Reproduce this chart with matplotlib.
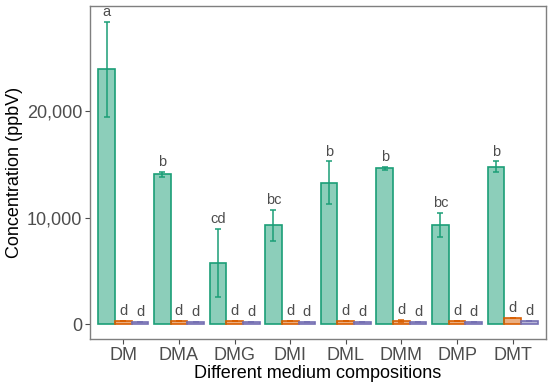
import matplotlib
matplotlib.use("Agg")
import matplotlib.pyplot as plt
import numpy as np

plt.rcParams['font.family'] = ['Liberation Sans', 'DejaVu Sans']

groups = ["DM", "DMA", "DMG", "DMI", "DML", "DMM", "DMP", "DMT"]
green = [23900, 14060, 5700, 9270, 13270, 14620, 9300, 14770]
green_err = [4450, 250, 3200, 1440, 2000, 150, 1170, 500]
orange = [300, 280, 280, 290, 280, 300, 280, 560]
orange_err = [20, 20, 20, 20, 20, 60, 20, 30]
purple = [230, 220, 220, 220, 220, 220, 220, 270]
purple_err = [10, 10, 10, 10, 10, 10, 10, 10]
green_lab = ["a", "b", "cd", "bc", "b", "b", "bc", "b"]
orange_lab = ["d"] * 8
purple_lab = ["d"] * 8

series = [
    (green, green_err, green_lab, "#1b9e77"),
    (orange, orange_err, orange_lab, "#d95f02"),
    (purple, purple_err, purple_lab, "#7570b3"),
]

fig = plt.figure(figsize=(5.5, 3.92), dpi=100)
ax = fig.add_axes([0.1636, 0.135, 0.8291, 0.8497])

x = np.arange(1, len(groups) + 1)
w = 0.3
for k, (vals, errs, labs, col) in enumerate(series):
    pos = x + (k - 1) * w
    ax.bar(pos, vals, width=w, color=col, alpha=0.5, edgecolor="none", zorder=2)
    ax.bar(pos, vals, width=w, facecolor="none", edgecolor=col, linewidth=1.2, zorder=3)
    ax.errorbar(pos, vals, yerr=errs, fmt="none", ecolor=col, elinewidth=1.1,
                capsize=2.5, capthick=1.1, zorder=4)
    for p, v, e, t in zip(pos, vals, errs, labs):
        ax.annotate(t, (p, v + e), xytext=(0, 2), textcoords="offset points",
                    ha="center", va="bottom", fontsize=10.5, color="#4d4d4d")

ax.set_xlim(0.4, 8.6)
ax.set_ylim(-1410, 29860)
ax.set_xticks(x)
ax.set_xticklabels(groups)
ax.set_yticks([0, 10000, 20000])
ax.set_yticklabels(["0", "10,000", "20,000"])
ax.tick_params(axis="both", labelsize=13, labelcolor="#4d4d4d", color="#4d4d4d",
               length=3.5, width=0.8, pad=2)
for s in ax.spines.values():
    s.set_color("#7f7f7f")
    s.set_linewidth(1.0)
ax.set_xlabel("Different medium compositions", fontsize=13, labelpad=1)
ax.set_ylabel("Concentration (ppbV)", fontsize=13, labelpad=3)

fig.savefig("out.png", dpi=100)
